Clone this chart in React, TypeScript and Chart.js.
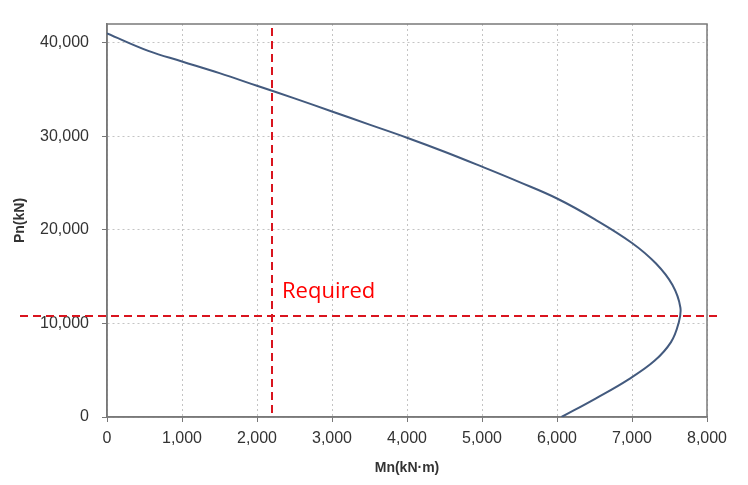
import React, { useEffect, useRef } from "react";
import { Chart, registerables } from "chart.js";

Chart.register(...registerables);

const mnValues = [0, 560, 1000, 1500, 2000, 2500, 3000, 3500, 4000, 4500, 5000, 5500, 6000, 6500, 7000, 7320, 7540, 7645, 7620, 7520, 7300, 6950, 6520, 6060];
const pnValues = [41000, 39100, 38000, 36750, 35400, 34050, 32650, 31250, 29850, 28350, 26750, 25100, 23350, 21150, 18600, 16400, 14100, 11700, 10000, 8000, 6000, 4000, 2000, 0];
const yTickValues = [0, 10000, 20000, 30000, 40000];
const requiredMn = 2200;
const requiredPn = 10800;
const requiredLabel = "Required";
const xTitle = "Mn(kN·m)";
const yTitle = "Pn(kN)";

const requiredPlugin = {
  id: "requiredLines",
  afterDatasetsDraw(chart: any) {
    const { ctx, chartArea, scales } = chart;
    const x = scales.x.getPixelForValue(requiredMn);
    const y = scales.y.getPixelForValue(requiredPn);
    ctx.save();
    ctx.strokeStyle = "#d9141e";
    ctx.lineWidth = 2;
    ctx.setLineDash([8, 5]);
    ctx.beginPath();
    ctx.moveTo(x, chartArea.top + 4);
    ctx.lineTo(x, chartArea.bottom);
    ctx.stroke();
    ctx.beginPath();
    ctx.moveTo(20, y);
    ctx.lineTo(chartArea.right + 15, y);
    ctx.stroke();
    ctx.setLineDash([]);
    ctx.fillStyle = "#ff0000";
    ctx.font = "22px 'Open Sans', sans-serif";
    ctx.textAlign = "left";
    ctx.textBaseline = "alphabetic";
    ctx.fillText(requiredLabel, x + 10, y - 18);
    ctx.restore();
  },
};

export default function App() {
  const ref = useRef<HTMLCanvasElement>(null);
  useEffect(() => {
    const data = mnValues.map((m, i) => ({ x: m, y: pnValues[i] }));
    const tickFont = { family: "'Liberation Sans', Arial, sans-serif", size: 16 };
    const titleFont = { family: "'Liberation Sans', Arial, sans-serif", size: 14, weight: "bold" as const };
    const chart = new Chart(ref.current!, {
      type: "scatter",
      data: {
        datasets: [
          {
            data,
            showLine: true,
            borderColor: "#435a7e",
            borderWidth: 2,
            pointRadius: 0,
            tension: 0.4,
            fill: false,
          },
        ],
      },
      options: {
        animation: false,
        responsive: false,
        maintainAspectRatio: false,
        layout: { padding: { left: 0, right: 41, top: 24, bottom: 8 } },
        plugins: { legend: { display: false }, tooltip: { enabled: false } },
        scales: {
          x: {
            type: "linear",
            min: 0,
            max: 8000,
            afterFit: (s: any) => { s.height = 60; },
            ticks: {
              stepSize: 1000,
              autoSkip: false,
              color: "#333",
              font: tickFont,
              padding: 7,
              callback: (v: any) => Number(v).toLocaleString("en-US"),
            },
            grid: {
              color: "#c4c4c4",
              tickColor: "#777",
              tickLength: 5,
              lineWidth: 1,
            },
            border: { display: true, color: "#777", width: 1.5, dash: [2, 3] },
            title: { display: true, text: xTitle, color: "#333", font: titleFont, padding: 0 },
          },
          y: {
            type: "linear",
            min: 0,
            max: 42000,
            afterFit: (s: any) => { s.width = 107; },
            afterBuildTicks: (s: any) => { s.ticks = yTickValues.map((v) => ({ value: v })); },
            ticks: {
              autoSkip: false,
              color: "#333",
              font: tickFont,
              padding: 13,
              callback: (v: any) => Number(v).toLocaleString("en-US"),
            },
            grid: {
              color: "#c4c4c4",
              tickColor: "#777",
              tickLength: 5,
              lineWidth: 1,
            },
            border: { display: true, color: "#777", width: 1.5, dash: [2, 3] },
            title: { display: true, text: yTitle, color: "#333", font: titleFont, padding: { top: 12, bottom: 0 } },
          },
        },
      },
      plugins: [
        {
          id: "box",
          beforeDatasetsDraw(chart: any) {
            const { ctx, chartArea } = chart;
            ctx.save();
            ctx.strokeStyle = "#7a7a7a";
            ctx.lineWidth = 1.5;
            ctx.setLineDash([]);
            ctx.strokeRect(chartArea.left, chartArea.top, chartArea.right - chartArea.left, chartArea.bottom - chartArea.top);
            ctx.restore();
          },
        },
        requiredPlugin,
      ],
    });
    return () => chart.destroy();
  }, []);
  return (
    <div style={{ position: "fixed", left: 0, top: 0, width: 748, height: 485, background: "#fff" }}>
      <canvas ref={ref} width={748} height={485} style={{ width: 748, height: 485 }} />
    </div>
  );
}
